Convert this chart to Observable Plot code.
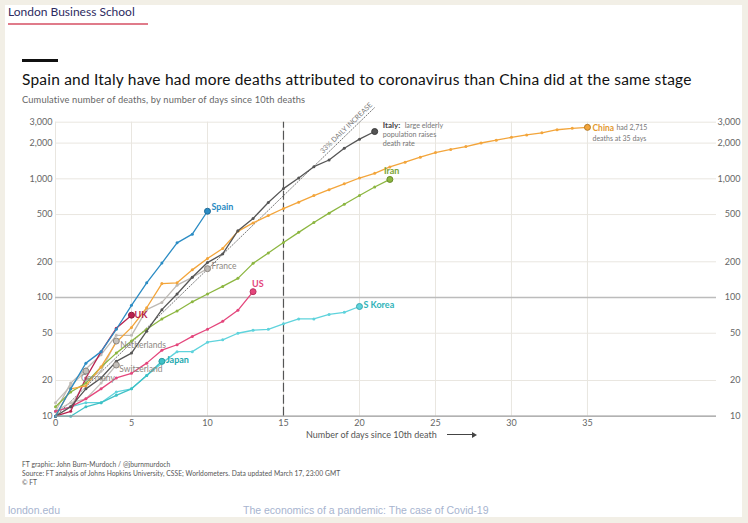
<!DOCTYPE html>
<html><head><meta charset="utf-8">
<script src="https://cdn.jsdelivr.net/npm/d3@7"></script>
<script src="https://cdn.jsdelivr.net/npm/@observablehq/plot@0.6"></script>
<style>
html,body{margin:0;padding:0;background:#f2efe6;}
#page{position:relative;width:748px;height:523px;overflow:hidden;font-family:Lato,sans-serif;}
#card{position:absolute;left:5px;top:5px;width:737px;height:512px;background:#fff;}
.abs{position:absolute;white-space:nowrap;line-height:1;}
#chart svg{overflow:visible;}
</style></head><body>
<div id="page">
 <div id="card"></div>
 <div class="abs" style="left:8px;top:6px;font-size:12px;color:#2e2b5f">London Business School</div>
 <div class="abs" style="left:8px;top:23px;width:140px;height:2px;background:#e07b8a"></div>
 <div class="abs" style="left:22px;top:59px;width:36px;height:3px;background:#111"></div>
 <div class="abs" style="left:22px;top:72.3px;font-size:15.5px;letter-spacing:0.2px;color:#111">Spain and Italy have had more deaths attributed to coronavirus than China did at the same stage</div>
 <div class="abs" style="left:22px;top:94.8px;font-size:9.3px;letter-spacing:0.15px;color:#666">Cumulative number of deaths, by number of days since 10th deaths</div>
 <div id="chart" class="abs" style="left:0;top:100px"></div>
 <div class="abs" style="left:306px;top:430px;font-size:9px;color:#555">Number of days since 10th death</div>
 <div class="abs" style="left:447px;top:434px;width:26px;height:1px;background:#444"></div>
 <div class="abs" style="left:472px;top:431.5px;width:0;height:0;border-top:3px solid transparent;border-bottom:3px solid transparent;border-left:5px solid #444"></div>
 <div class="abs" style="left:22px;top:461px;font-size:6.7px;letter-spacing:0.05px;color:#555">FT graphic: John Burn-Murdoch / @jburnmurdoch</div>
 <div class="abs" style="left:22px;top:470px;font-size:6.7px;letter-spacing:0.05px;color:#555">Source: FT analysis of Johns Hopkins University, CSSE; Worldometers. Data updated March 17, 23:00 GMT</div>
 <div class="abs" style="left:22px;top:479px;font-size:6.7px;color:#555">© FT</div>
 <div class="abs" style="left:8px;top:505px;font-size:10.5px;color:#a7b4cf;font-family:'Liberation Sans',Arial,sans-serif">london.edu</div>
 <div class="abs" style="left:243px;top:505px;font-size:10.5px;color:#a7b4cf;font-family:'Liberation Sans',Arial,sans-serif">The economics of a pandemic: The case of Covid-19</div>
</div>
<script>
// ---- data: cumulative deaths by day since 10th death (index = day) ----
const spain       = [10,17,28,35,54,86,133,195,289,342,533];
const italy       = [10,12,17,21,29,34,52,79,107,148,197,233,366,463,631,827,1016,1266,1441,1809,2158,2503];
const china       = [10,17,18,26,42,56,82,131,133,171,213,259,361,425,490,562,636,722,811,908,1016,1113,1259,1380,1523,1665,1770,1868,2004,2118,2236,2345,2442,2592,2663,2715];
const iran        = [12,16,19,26,34,43,54,66,77,92,107,124,145,194,237,291,354,429,514,611,724,853,988];
const us          = [11,12,14,17,21,23,28,36,40,47,54,63,78,112];
const skorea      = [11,12,13,13,16,17,22,28,35,35,42,44,50,53,54,60,66,66,72,75,84];
const japan       = [10,10,12,13,15,17,22,29];
const uk          = [10,11,21,35,55,71];
const france      = [11,19,25,33,48,48,79,91,127,148,175];
const netherlands = [10,12,20,24,43];
const switzerland = [11,13,14,19,27];
const germany     = [13,18,24];
const guide       = [{day:0, deaths:10}, {day:21, deaths:3990}]; // 33% daily increase reference
const yTicks = [10,20,50,100,200,500,1000,2000,3000];
const xTicks = [0,5,10,15,20,25,30,35];
const xMax = 43.49;

const series = [
  {name:"Germany", values:germany, color:"#c4c0bb", end:"#8d8781", label:"Germany", lc:"#8d8781", dx:-5, dy:7, size:8.5},
  {name:"Switzerland", values:switzerland, color:"#c4c0bb", end:"#8d8781", label:"Switzerland", lc:"#8d8781", dx:3, dy:4, size:8.5},
  {name:"Netherlands", values:netherlands, color:"#c4c0bb", end:"#8d8781", label:"Netherlands", lc:"#8d8781", dx:4, dy:4, size:8.5},
  {name:"France", values:france, color:"#bdb9b4", end:"#8d8781", label:"France", lc:"#8d8781", dx:4, dy:-2, size:8.5},
  {name:"S Korea", values:skorea, color:"#5fd3dc", end:"#3aa9b0", label:"S Korea", lc:"#2fb3b9", dx:4, dy:-1, size:9, bold:true},
  {name:"Japan", values:japan, color:"#3fc1c6", end:"#2a9da2", label:"Japan", lc:"#22a9ae", dx:4, dy:-1, size:9, bold:true},
  {name:"US", values:us, color:"#e4467c", end:"#b8305e", label:"US", lc:"#e4467c", dx:-1, dy:-8, size:9, bold:true},
  {name:"UK", values:uk, color:"#b8214e", end:"#8e1a3c", label:"UK", lc:"#b8214e", dx:3, dy:0, size:9, bold:true},
  {name:"Iran", values:iran, color:"#8cb640", end:"#6a8c2d", label:"Iran", lc:"#7aa334", dx:-6, dy:-8, size:9, bold:true},
  {name:"China", values:china, color:"#f3a53b", end:"#b57a25", label:null},
  {name:"Italy", values:italy, color:"#555555", end:"#3a3a3a", label:null},
  {name:"Spain", values:spain, color:"#2b8cc4", end:"#1f6b98", label:"Spain", lc:"#2b8cc4", dx:4, dy:-4, size:9, bold:true}
];
const rows = s => s.values.map((v,i)=>({country:s.name, day:i, deaths:v}));
const lastRow = s => ({country:s.name, day:s.values.length-1, deaths:s.values[s.values.length-1]});

// point along guide (in log space) for label placement
const t = 0.911;
const gLabel = [{day: guide[0].day + t*(guide[1].day-guide[0].day),
                 deaths: Math.exp(Math.log(guide[0].deaths) + t*(Math.log(guide[1].deaths)-Math.log(guide[0].deaths)))}];

const fmt = d3.format(",");
const marks = [];
marks.push(Plot.ruleY(yTicks.filter(v=>v!==10 && v!==100), {x1:0, x2:xMax, stroke:"#e9e6e0", strokeWidth:1}));
marks.push(Plot.ruleX(xTicks, {y1:10, y2:3000, stroke:"#e9e6e0", strokeWidth:1}));
marks.push(Plot.ruleY([100], {x1:0, x2:xMax, stroke:"#bcbcbc", strokeWidth:1.6}));
marks.push(Plot.ruleX([15], {y1:10, y2:3000, stroke:"#555", strokeWidth:1.2, strokeDasharray:"9,3"}));
marks.push(Plot.line(guide, {x:"day", y:"deaths", stroke:"#777", strokeWidth:1, strokeDasharray:"1.2,1.8"}));
marks.push(Plot.text(gLabel, {x:"day", y:"deaths", text:()=>"33% DAILY INCREASE", rotate:-44, dy:-7, fontSize:7, fill:"#777"}));
for (const s of series) {
  const d = rows(s);
  marks.push(Plot.line(d, {x:"day", y:"deaths", stroke:s.color, strokeWidth:1.3}));
  marks.push(Plot.dot(d.slice(0,-1), {x:"day", y:"deaths", r:1.5, fill:s.color}));
}
for (const s of series) {
  marks.push(Plot.dot([lastRow(s)], {x:"day", y:"deaths", r:3, fill:s.color, stroke:s.end, strokeWidth:1}));
  if (s.label) marks.push(Plot.text([lastRow(s)], {x:"day", y:"deaths", text:()=>s.label, dx:s.dx, dy:s.dy, textAnchor:"start", fill:s.lc, fontSize:s.size, fontWeight:s.bold?"bold":"normal"}));
}
const itEnd = [lastRow(series.find(s=>s.name==="Italy"))];
const chEnd = [lastRow(series.find(s=>s.name==="China"))];
marks.push(Plot.text(itEnd, {x:"day", y:"deaths", text:()=>"Italy:", dx:8, dy:-6, textAnchor:"start", fill:"#444", fontSize:8, fontWeight:"bold"}));
marks.push(Plot.text(itEnd, {x:"day", y:"deaths", text:()=>"large elderly", dx:30, dy:-6, textAnchor:"start", fill:"#777", fontSize:7.2}));
marks.push(Plot.text(itEnd, {x:"day", y:"deaths", text:()=>"population raises", dx:8, dy:3, textAnchor:"start", fill:"#777", fontSize:7.2}));
marks.push(Plot.text(itEnd, {x:"day", y:"deaths", text:()=>"death rate", dx:8, dy:11.7, textAnchor:"start", fill:"#777", fontSize:7.2}));
marks.push(Plot.text(chEnd, {x:"day", y:"deaths", text:()=>"China", dx:5, dy:0.5, textAnchor:"start", fill:"#e39a2f", fontSize:8.5, fontWeight:"bold"}));
marks.push(Plot.text(chEnd, {x:"day", y:"deaths", text:()=>"had 2,715", dx:29, dy:0.5, textAnchor:"start", fill:"#777", fontSize:7}));
marks.push(Plot.text(chEnd, {x:"day", y:"deaths", text:()=>"deaths at 35 days", dx:5, dy:11, textAnchor:"start", fill:"#777", fontSize:7}));
marks.push(Plot.ruleY([10], {x1:0, x2:xMax, stroke:"#999", strokeWidth:1.3}));
// axis tick labels
marks.push(Plot.text(yTicks, {y:d=>d, frameAnchor:"left", dx:-3, textAnchor:"end", text:d=>fmt(d), fontSize:9, fill:"#666"}));
marks.push(Plot.text(yTicks, {y:d=>d, frameAnchor:"right", dx:24, textAnchor:"end", text:d=>fmt(d), fontSize:9, fill:"#666"}));
marks.push(Plot.axisX({ticks:xTicks, anchor:"bottom", tickSize:0, tickPadding:3, fontSize:9, fill:"#666", label:null}));

const chart = Plot.plot({
  width:748, height:350,
  marginLeft:55, marginRight:32, marginTop:21.7, marginBottom:34.3,
  style:{fontFamily:"Lato, sans-serif", background:"transparent", overflow:"visible"},
  x:{domain:[0,xMax], axis:null},
  y:{type:"log", domain:[10,3000], axis:null},
  marks
});
document.getElementById("chart").appendChild(chart);
</script>
</body></html>
